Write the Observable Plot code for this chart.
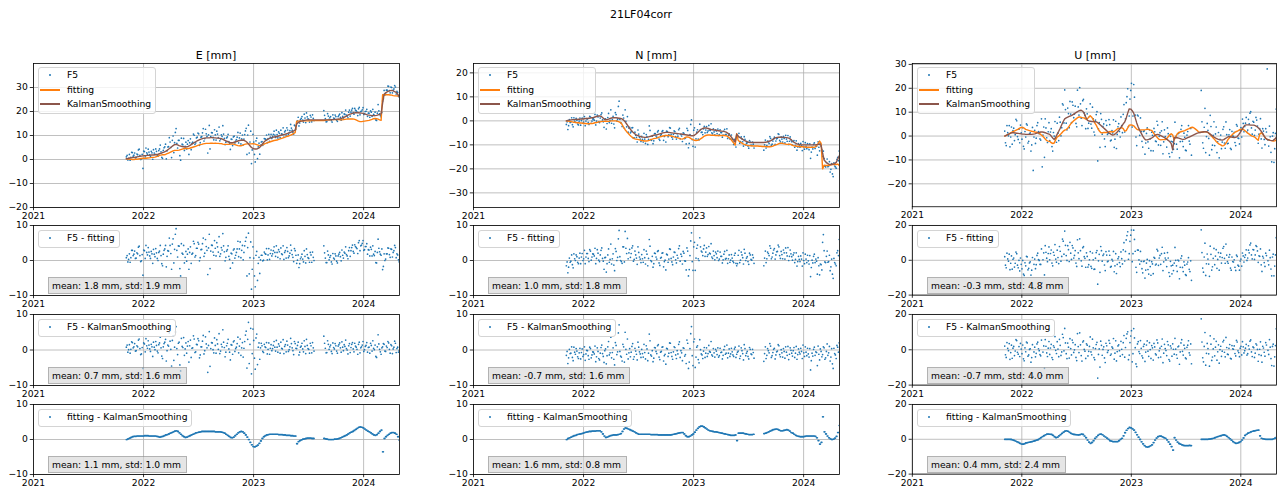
<!DOCTYPE html>
<html>
<head>
<meta charset="utf-8">
<script src="https://cdn.jsdelivr.net/npm/d3@7"></script>
<script src="https://cdn.jsdelivr.net/npm/@observablehq/plot@0.6"></script>
<style>
  body { margin: 0; background: #fff; font-family: "DejaVu Sans", "Liberation Sans", sans-serif; }
  #fig { position: relative; width: 1282px; height: 491px; overflow: hidden; background: #fff; }
  .pl { position: absolute; }
  .ttl { position: absolute; font-size: 11px; line-height: 13px; white-space: nowrap; transform: translateX(-50%); color: #000; }
  .legend { position: absolute; padding: 0 4px 1px 28px; background: rgba(255,255,255,0.8); border: 1px solid #d4d4d4; border-radius: 3px; font-size: 9.2px; line-height: 14.5px; white-space: nowrap; color: #000; }
  .lrow { position: relative; height: 14.5px; }
  .swd { position: absolute; left: -17.6px; top: 6.3px; width: 2px; height: 2px; border-radius: 50%; }
  .swl { position: absolute; left: -26.6px; top: 6px; width: 20px; height: 2px; }
  .stat { position: absolute; box-sizing: border-box; height: 17.5px; line-height: 15.5px; padding: 0 5px 0 3px; font-size: 9.2px; white-space: nowrap; background: rgba(211,211,211,0.6); border: 1px solid rgba(0,0,0,0.22); color: #000; }
</style>
</head>
<body>
<div id="fig"></div>
<script>
// ---------------- data ----------------
const suptitle = "21LF04corr";
const componentTitles = ["E [mm]", "N [mm]", "U [mm]"];
const seriesNames = ["F5", "fitting", "KalmanSmoothing"];
const residualNames = ["F5 - fitting", "F5 - KalmanSmoothing", "fitting - KalmanSmoothing"];
const yearTicks = [2021, 2022, 2023, 2024];
const xDomain = ["2021-01-01", "2024-04-29"];
const startDate = "2021-11-05";
const stepDays = 5;
const secondObsOffsetDays = 2.5;
const topTicksE = [-20, -10, 0, 10, 20, 30];
const topTicksN = [-30, -20, -10, 0, 10, 20];
const topTicksU = [-20, -10, 0, 10, 20, 30];
const topDomainE = [-20, 40];
const topDomainN = [-36.1, 23.9];
const topDomainU = [-29.6, 30.4];
const resTicksEN = [-10, 0, 10];
const resTicksU = [-20, 0, 20];
const statsE = ["mean: 1.8 mm, std: 1.9 mm", "mean: 0.7 mm, std: 1.6 mm", "mean: 1.1 mm, std: 1.0 mm"];
const statsN = ["mean: 1.0 mm, std: 1.8 mm", "mean: -0.7 mm, std: 1.6 mm", "mean: 1.6 mm, std: 0.8 mm"];
const statsU = ["mean: -0.3 mm, std: 4.8 mm", "mean: -0.7 mm, std: 4.0 mm", "mean: 0.4 mm, std: 2.4 mm"];

// Kalman smoothing curves (mm), every 5 days from startDate
const ksE = [
0.3,0.4,0.6,0.7,0.8,0.9,1.0,1.1,1.2,1.3,
1.4,1.5,1.6,1.6,1.7,1.7,1.8,1.9,1.9,2.0,
2.1,2.2,2.4,2.6,2.9,3.1,3.4,3.8,4.3,4.8,
5.3,5.8,6.2,6.3,6.1,5.8,5.6,5.4,5.3,5.2,
5.3,5.5,5.8,6.2,6.6,7.0,7.4,7.8,8.1,8.4,
8.6,8.8,8.9,9.0,9.0,9.0,9.1,9.1,9.0,9.0,
8.9,8.9,8.8,8.7,8.4,8.1,7.8,7.5,7.2,7.0,
7.0,7.1,7.3,7.5,7.7,7.9,8.0,8.1,8.0,7.7,
7.2,6.5,5.7,5.0,4.6,4.4,4.4,4.5,4.8,5.4,
6.3,7.1,7.7,8.1,8.5,8.8,9.0,9.2,9.4,9.5,
9.6,9.8,10.0,10.2,10.3,10.5,10.7,10.9,11.1,11.3,
11.6,11.9,12.2,14.8,15.4,15.8,16.0,16.1,16.3,16.4,
16.5,16.5,16.5,16.5,16.5,16.5,16.5,16.5,16.5,16.5,
16.5,16.5,16.5,16.5,16.5,16.5,16.6,16.6,16.7,16.7,
16.8,16.9,17.0,17.2,17.5,17.8,18.1,18.5,18.8,19.0,
19.2,19.4,19.5,19.5,19.5,19.4,19.3,19.2,19.0,18.8,
18.6,18.5,18.4,18.3,18.3,18.3,18.4,18.6,18.8,19.0,
23.5,27.2,27.8,28.2,28.5,28.7,28.8,28.6,28.3,28.0,
27.2,26.2];
// KalmanSmoothing minus fitting, as read from the bottom row
const ksMinusFitE = [
0.0,0.2,0.4,0.6,0.8,0.9,0.9,1.0,1.0,1.0,
1.0,1.0,1.1,1.1,1.1,1.0,1.0,1.0,1.0,1.0,
0.9,0.8,0.7,0.8,0.9,1.1,1.3,1.4,1.6,1.8,
2.0,2.2,2.4,2.5,2.3,1.9,1.5,1.1,0.8,0.6,
0.7,0.9,1.1,1.3,1.5,1.7,1.9,2.0,2.1,2.2,
2.3,2.3,2.3,2.3,2.3,2.3,2.3,2.3,2.3,2.2,
2.2,2.2,2.2,2.1,2.0,1.8,1.5,1.2,0.9,0.6,
0.5,0.7,1.1,1.5,1.9,2.2,2.3,2.2,1.8,1.3,
0.7,0.0,-0.8,-1.5,-2.0,-2.1,-1.9,-1.6,-1.1,-0.4,
0.3,0.8,1.1,1.3,1.4,1.5,1.5,1.5,1.5,1.5,
1.5,1.4,1.4,1.4,1.3,1.3,1.2,1.2,1.2,1.1,
1.1,1.0,1.0,-1.2,-0.6,-0.3,-0.1,0.1,0.2,0.3,
0.4,0.4,0.4,0.3,0.3,0.3,0.3,0.3,0.3,0.3,
0.3,0.3,0.2,0.1,0.0,0.0,0.0,0.0,0.1,0.1,
0.2,0.3,0.5,0.7,0.9,1.1,1.3,1.6,1.9,2.1,
2.3,2.6,2.9,3.2,3.5,3.6,3.5,3.3,3.0,2.7,
2.4,2.2,1.9,1.6,1.3,1.2,1.4,1.8,2.3,2.7,
-3.5,0.3,0.8,1.2,1.5,1.8,2.0,2.0,1.8,1.5,
0.8,-0.2];
// F5 minus KalmanSmoothing (null = no observation), first and second observation per 5-day step
const resE = [
0.8,-0.6,1.5,0.2,2.1,0.9,-0.3,1.2,2.8,0.4,
-1.1,-5.2,1.7,3.2,0.5,1.4,-0.4,0.9,2.2,0.1,
1.3,-0.8,2.0,0.6,-2.4,1.8,3.0,-0.2,1.1,2.5,
-4.5,4.0,0.8,6.6,-1.3,2.2,-5.9,1.0,3.5,0.3,
-0.9,2.4,1.2,-2.1,0.6,3.1,-0.5,1.5,2.6,-1.4,
0.9,4.1,-0.2,1.7,-6.3,5.2,0.4,2.0,-0.8,1.3,
2.9,0.2,-1.0,1.6,5.7,0.7,-0.6,1.9,0.3,-2.8,
1.4,2.3,-0.4,0.8,3.6,1.1,-1.5,2.1,0.5,4.2,
-5.1,7.8,1.6,-6.7,5.9,-2.3,3.4,-4.1,2.0,0.6,
1.2,-0.7,0.9,2.1,0.2,-1.2,1.5,0.4,2.4,-0.3,
0.8,1.7,-0.9,0.5,2.9,1.0,-0.5,1.4,0.1,3.3,
0.6,-1.3,1.8,0.4,2.2,-0.6,1.1,0.3,2.6,-1.0,
1.3,0.2,1.9,-0.8,0.6,null,null,null,null,null,
null,3.9,0.5,-0.7,1.6,0.9,-0.4,2.0,0.3,1.2,
-0.9,1.5,0.6,2.3,-0.2,1.0,0.4,-1.1,1.8,0.7,
2.1,-0.5,1.1,0.2,1.6,-0.8,0.9,2.4,0.1,1.3,
-0.6,0.8,1.9,-0.3,0.5,1.4,-2.1,4.3,0.2,-1.2,
0.9,1.6,-0.4,0.7,2.0,-0.9,1.2,0.3,2.5,-0.7,
0.8,-0.2];
const res2E = [
1.4,0.1,-0.9,2.3,0.6,1.8,-0.2,0.9,3.1,-1.3,
0.7,2.0,-0.5,1.2,2.6,0.3,1.6,-1.8,0.8,2.4,
-0.3,1.5,3.6,-1.7,0.9,2.2,-3.1,1.4,4.8,0.2,
2.7,-2.9,5.1,0.4,1.9,-4.2,3.3,0.7,-1.5,2.0,
1.1,-3.4,2.8,0.5,4.0,-0.7,1.6,3.2,-2.2,0.9,
2.5,-1.1,3.7,0.6,1.3,-4.6,2.1,0.1,3.4,-0.9,
1.7,4.6,-0.3,0.9,2.2,-1.9,1.2,3.0,-0.6,1.5,
-1.2,2.6,0.4,1.8,-0.8,3.1,0.6,-2.0,2.4,5.3,
3.0,-3.8,6.1,-1.0,2.7,-5.4,4.5,0.8,-2.6,1.9,
-0.4,1.6,0.7,-1.1,2.0,0.5,-0.2,1.3,0.8,2.7,
-0.6,1.1,2.2,0.3,-1.0,1.5,2.5,-0.4,0.9,1.8,
-0.2,2.4,0.5,1.3,-1.4,0.8,1.9,-0.5,1.0,3.0,
0.4,-0.9,1.2,2.1,-0.3,null,null,null,null,null,
null,1.9,-0.8,2.6,0.2,1.4,-1.0,0.7,1.8,-0.3,
1.1,2.0,-0.6,0.8,1.5,2.8,0.0,1.2,-0.7,1.6,
0.3,1.9,0.8,-1.2,2.2,0.6,1.4,-0.4,1.0,2.1,
0.7,-0.9,1.3,2.6,0.1,-1.8,0.9,1.7,-0.5,0.6,
1.8,-0.3,1.1,2.4,0.2,1.5,-1.0,0.8,1.9,0.4,
-0.6,0.5];

const ksN = [
0.0,0.2,0.3,0.4,0.5,0.5,0.6,0.6,0.7,0.7,
0.8,0.8,0.9,1.0,1.0,1.1,1.2,1.3,1.4,1.6,
1.8,2.0,2.1,1.9,1.4,0.8,0.5,0.5,0.7,1.0,
1.2,1.3,1.3,1.3,1.2,1.1,1.0,0.8,0.3,-0.4,
-1.3,-2.2,-3.1,-3.9,-4.6,-5.2,-5.7,-6.0,-6.3,-6.5,
-6.7,-6.8,-6.9,-6.9,-6.8,-6.6,-6.4,-6.2,-6.0,-5.9,
-5.8,-5.6,-5.4,-5.2,-5.0,-4.9,-4.8,-4.8,-4.8,-4.9,
-5.0,-5.1,-5.2,-5.2,-5.3,-5.4,-5.5,-5.6,-5.7,-5.8,
-5.9,-6.0,-6.1,-6.2,-6.2,-6.0,-5.5,-4.9,-4.3,-3.7,
-3.3,-3.0,-2.9,-3.0,-3.2,-3.4,-3.6,-3.7,-3.8,-3.9,
-4.0,-4.1,-4.2,-4.3,-4.4,-4.5,-4.7,-5.1,-5.7,-6.4,
-7.2,-8.0,-8.8,-5.6,-6.3,-6.9,-7.3,-7.7,-8.1,-8.4,
-8.7,-8.9,-9.0,-9.0,-9.0,-9.0,-9.0,-9.0,-9.0,-9.0,
-9.0,-9.0,-8.9,-8.8,-8.6,-8.4,-8.1,-7.7,-7.3,-7.0,
-6.9,-6.8,-6.8,-6.8,-6.9,-6.9,-7.0,-7.1,-7.3,-7.8,
-8.4,-8.9,-9.3,-9.6,-9.8,-9.9,-10.0,-10.0,-10.0,-10.0,
-10.0,-10.0,-10.0,-10.0,-10.0,-10.0,-9.9,-9.8,-9.7,-10.2,
-13.5,-16.3,-17.0,-17.6,-18.0,-18.2,-18.2,-18.0,-17.8,-17.3,
-16.0,-14.6];
const ksMinusFitN = [
0.0,0.3,0.5,0.7,0.9,1.1,1.2,1.4,1.5,1.6,
1.7,1.8,2.0,2.1,2.2,2.3,2.3,2.4,2.4,2.4,
2.5,2.5,2.5,2.2,1.6,1.0,0.6,0.7,0.9,1.1,
1.2,1.3,1.3,1.3,1.4,1.5,1.7,2.3,3.0,3.3,
3.2,3.0,2.8,2.6,2.4,2.2,1.9,1.7,1.5,1.5,
1.5,1.5,1.5,1.5,1.5,1.5,1.4,1.4,1.4,1.4,
1.4,1.3,1.3,1.3,1.3,1.3,1.3,1.3,1.3,1.3,
1.4,1.5,1.6,1.7,1.8,1.9,2.0,2.0,1.6,1.1,
0.8,0.8,1.0,1.3,1.6,2.1,2.7,3.2,3.6,3.8,
3.8,3.6,3.3,3.0,2.7,2.5,2.4,2.3,2.2,2.2,
2.1,2.0,1.9,1.8,1.7,1.6,1.5,1.4,1.3,1.2,
1.2,1.2,1.3,-0.3,1.8,1.8,1.8,1.8,1.7,1.6,
1.5,1.4,1.4,1.4,1.5,1.5,1.5,1.5,1.6,1.6,
1.7,1.7,1.8,2.0,2.2,2.4,2.6,2.8,2.9,3.0,
2.9,2.7,2.5,2.5,2.6,2.7,2.8,2.7,2.4,2.0,
1.8,1.5,1.2,1.0,0.9,0.8,0.8,0.8,0.9,1.0,
1.0,1.0,1.0,1.0,1.0,0.9,0.5,-0.3,-1.3,-0.8,
6.5,2.2,1.6,1.0,0.5,0.2,0.0,0.1,0.4,0.9,
2.0,4.0];
const resN = [
-1.5,-3.8,0.2,-0.9,-2.1,0.8,-1.2,-0.3,-2.4,0.5,
-0.7,-1.8,0.9,-1.1,-0.2,-2.6,0.4,-1.4,-0.6,1.1,
-1.9,-0.4,-2.8,0.7,-1.0,-3.5,0.3,-1.6,2.4,-0.8,
-2.2,0.6,-4.2,1.3,-0.5,7.1,-1.7,-3.1,0.9,5.0,
-1.2,-2.5,0.4,-0.6,1.8,-1.9,-0.3,-2.8,0.8,-1.1,
0.2,-2.0,-0.7,1.2,-3.0,4.5,-1.4,-0.2,-2.3,0.6,
-1.0,1.5,-2.7,-0.4,0.9,-1.6,-4.0,0.3,-0.9,1.9,
-1.8,-0.5,0.7,-2.4,-1.1,2.3,-0.2,-3.0,0.5,-1.3,
2.8,-5.2,0.4,6.6,-4.4,3.1,-2.0,1.2,-3.6,0.1,
-1.4,-0.3,-2.1,0.6,-1.0,-0.4,2.4,-1.7,-0.8,0.2,
-1.3,-2.0,0.5,-0.6,-1.5,1.0,-0.9,-2.2,0.3,-1.1,
-0.5,-1.8,0.8,-1.2,-0.3,-2.4,0.6,-1.0,1.5,-1.6,
-0.4,-2.5,0.2,-1.3,-0.7,null,null,null,null,null,
null,-3.2,0.9,-1.5,-0.2,1.8,-2.1,-0.7,0.5,-1.4,
-0.3,1.2,-1.9,-0.8,0.4,-2.3,-0.6,1.0,-1.2,-0.1,
-1.7,0.7,-0.9,-2.6,0.3,-1.1,-0.4,1.4,-1.8,-0.6,
0.5,-2.0,-5.6,-0.9,0.2,-1.5,-0.7,1.1,-2.8,-0.4,
-1.3,0.6,-2.2,1.7,-0.8,-3.1,0.4,-5.2,-1.0,-2.4,
0.8,2.0];
const res2N = [
-0.4,-2.2,-1.0,0.9,-3.0,-0.6,0.4,-1.9,-0.8,-2.5,
0.3,-1.3,-2.9,-0.1,-1.6,0.8,-2.2,-0.5,-1.1,-3.3,
0.6,-2.4,-0.9,1.4,-1.8,-0.2,-3.9,0.9,-1.4,3.6,
-0.7,-2.6,2.1,-1.3,4.8,-0.4,-2.0,1.6,-3.4,0.2,
3.1,-0.8,-1.9,1.0,-2.6,0.5,-1.2,2.2,-0.5,-2.1,
-1.0,1.6,-2.5,0.3,-0.9,2.6,-1.7,-3.3,0.7,-0.4,
1.2,-2.0,-0.6,0.8,-3.1,-1.2,0.5,-1.8,2.0,-0.7,
-2.6,0.9,-1.4,-0.2,1.6,-2.1,-0.8,0.6,-1.7,-3.8,
1.9,-3.4,4.6,-1.6,2.3,-4.9,0.8,-2.7,2.9,-1.1,
-2.4,0.7,-0.9,-1.8,1.3,-0.6,-1.4,0.4,-2.0,-0.3,
0.6,-1.6,-0.7,-2.5,0.1,-1.2,1.4,-0.9,-1.8,0.5,
-1.4,0.3,-2.1,-0.6,1.1,-1.7,-0.2,-2.8,0.4,-0.9,
-1.8,0.7,-1.1,0.2,-2.3,null,null,null,null,null,
null,-1.0,-2.4,0.4,-0.8,1.1,-1.6,0.2,-2.5,-0.5,
1.5,-1.3,0.1,-2.0,-0.4,0.9,-1.5,-2.7,0.6,-0.9,
-0.2,-2.1,1.0,-1.3,-0.6,0.5,-2.4,-0.8,0.9,-1.6,
-1.1,0.4,-3.0,-1.7,0.8,-0.5,-4.4,-1.2,0.3,-1.9,
0.9,-2.6,-0.4,-1.5,1.0,-2.0,-3.9,0.5,-1.4,1.3,
-0.6,3.5];

const ksU = [
0.0,0.3,0.6,0.9,1.2,1.4,1.4,1.3,1.2,1.1,
1.0,0.9,0.8,0.8,0.7,0.7,0.7,0.7,0.7,0.8,
0.9,1.1,1.3,1.5,1.7,1.7,1.6,1.4,1.1,0.9,
0.7,0.0,-0.8,-1.4,-0.5,0.8,2.0,3.3,4.7,6.1,
7.2,7.6,7.9,8.2,8.5,8.8,9.2,9.6,10.0,10.4,
10.7,10.8,10.4,9.5,8.0,6.7,6.3,6.2,6.1,6.1,
6.0,6.0,5.6,5.1,4.5,3.9,3.4,2.8,2.2,1.6,
1.1,0.7,0.4,0.6,1.1,1.7,2.4,3.2,4.1,5.1,
5.9,7.5,9.6,11.4,11.3,10.6,9.6,7.6,5.5,3.8,
2.4,1.2,0.0,-1.0,-1.6,-1.6,-1.4,-1.2,-0.8,-0.4,
0.2,0.6,0.7,0.5,0.2,-0.1,-0.5,-0.9,-1.3,-1.8,
-2.3,-3.2,-5.8,-0.7,-0.6,-0.7,-0.9,-1.1,-1.3,-1.4,
-1.3,-1.0,-0.7,-0.4,-0.1,0.2,0.5,0.8,1.1,1.3,
1.5,1.6,1.7,1.8,1.8,1.7,1.3,0.8,0.3,-0.2,
-0.6,-1.0,-1.3,-1.5,-1.6,-1.7,-1.5,-1.1,-0.7,-0.3,
-0.3,-0.4,-0.5,-0.6,-0.5,-0.2,0.6,1.5,2.5,3.6,
4.5,4.7,4.7,4.7,4.6,4.6,4.6,4.4,4.0,3.5,
2.8,2.0,1.1,0.0,-1.0,-1.4,-1.6,-1.8,-1.9,-1.8,
-1.3,-0.6];
const ksMinusFitU = [
0.0,0.0,0.0,0.0,-0.1,-0.3,-0.6,-1.0,-1.4,-1.8,
-2.3,-2.7,-2.8,-2.5,-2.1,-1.9,-1.7,-1.5,-1.3,-1.1,
-0.8,-0.5,-0.2,0.4,1.0,1.6,2.1,2.6,3.0,3.0,
2.9,2.8,2.3,1.5,1.0,1.2,2.0,2.7,3.4,4.1,
4.7,4.9,4.6,4.0,3.4,3.0,2.8,2.7,2.6,2.5,
2.7,3.0,2.8,1.9,0.9,-0.4,-1.6,-2.3,-1.8,-0.8,
0.5,1.4,2.3,2.9,3.0,2.6,1.9,1.3,0.7,0.0,
-0.8,-1.1,-1.3,-1.3,-1.3,-1.3,-0.8,0.0,0.6,2.0,
3.8,5.2,6.2,6.8,6.6,6.0,5.3,4.0,2.6,1.2,
-0.1,-1.4,-2.6,-3.6,-4.3,-4.5,-4.2,-3.7,-3.2,-1.9,
-0.4,0.7,1.5,1.9,1.8,1.4,1.0,0.6,-0.3,-1.5,
-2.8,-4.2,-6.2,0.9,-0.4,-1.6,-2.4,-2.8,-3.2,-3.5,
-3.6,-3.6,-3.6,-3.5,-3.6,-3.5,-3.0,-2.2,-1.4,-0.6,
0.0,0.0,0.0,0.0,0.0,0.0,0.1,0.2,0.4,0.6,
0.9,1.3,1.6,1.9,2.1,2.4,2.5,2.3,1.7,1.0,
0.3,-0.5,-1.3,-1.9,-2.3,-2.2,-1.8,-1.3,-0.4,0.8,
2.2,2.9,3.5,3.9,4.3,4.6,4.8,5.0,5.2,5.3,
2.0,0.6,0.3,0.1,0.0,0.0,0.0,0.0,0.0,0.3,
0.7,1.1];
const resU = [
2.1,-4.3,0.8,3.5,-1.6,-4.8,1.9,-0.7,5.2,-2.5,
-3.8,0.4,2.7,-6.2,-1.1,3.9,-2.9,0.6,-4.4,-15.2,
1.5,-2.0,4.3,-0.5,-3.4,-14.6,2.2,5.8,-1.8,0.9,
-2.6,3.1,-5.5,1.4,-0.3,4.6,-3.9,2.5,-1.2,6.9,
12.1,-2.2,3.8,-4.7,0.7,5.5,-1.5,2.9,-6.1,1.8,
9.6,-3.3,4.4,0.2,-4.9,2.6,-0.9,7.3,-2.8,1.1,
-5.6,3.0,-16.0,0.5,4.9,-3.1,1.7,-7.2,2.3,-0.4,
3.7,-2.4,0.9,-5.3,5.1,-1.0,2.8,-3.6,0.3,4.0,
-4.2,6.5,10.2,-3.0,7.8,-6.8,12.0,1.2,-9.5,4.6,
-2.1,0.8,-4.6,3.2,-1.3,5.0,-3.7,0.1,2.4,-5.8,
1.6,-2.9,3.9,-0.6,-4.1,6.1,-1.9,0.7,-3.3,2.8,
-6.4,1.0,3.4,-2.5,0.4,-4.8,2.1,-1.2,5.7,-3.0,
0.8,-5.1,2.6,-1.7,3.3,null,null,null,null,null,
null,17.5,-4.5,1.9,-8.7,3.6,-2.3,7.9,-6.0,0.5,
-3.4,4.8,-1.1,-7.6,2.0,-0.8,5.4,-4.0,1.3,-2.7,
3.0,-5.2,0.6,2.2,-3.5,4.4,-1.6,0.9,-2.9,1.7,
-0.5,3.1,-2.2,0.4,5.6,-3.8,1.2,-1.9,2.7,-6.5,
0.3,-3.2,2.0,-1.4,4.1,29.5,-2.6,1.5,-8.9,3.2,
-4.0,11.9];
const res2U = [
-2.8,4.1,-0.5,-5.4,2.6,0.9,-3.3,5.7,-1.4,1.8,
3.6,-2.2,-5.1,1.1,4.4,-3.6,0.2,-7.0,2.9,-1.2,
-4.0,3.3,0.6,-2.7,5.5,-1.3,-10.5,2.0,-3.8,4.7,
1.0,-4.4,2.3,7.5,-2.1,0.4,5.9,-3.2,8.8,-0.6,
3.9,-5.0,1.5,6.3,-2.9,4.1,0.0,-4.3,9.2,-1.6,
2.8,-6.4,5.0,-0.8,3.4,-3.5,1.9,-1.2,6.0,-4.4,
0.7,4.2,-2.6,-9.8,2.5,0.2,-4.6,3.7,-1.5,5.3,
-3.1,1.6,6.4,-1.9,-6.3,2.2,-0.5,4.8,-2.7,8.1,
1.3,9.0,-5.6,4.1,10.8,-2.2,6.7,-8.0,3.3,-1.0,
5.2,-3.4,1.9,-6.6,2.7,-0.8,4.0,-4.9,1.1,3.6,
-2.3,5.6,-4.4,0.9,2.0,-7.3,3.1,-0.4,4.7,-5.5,
2.2,-3.6,0.3,6.5,-2.8,1.7,-8.2,3.9,-0.9,2.6,
-4.6,1.4,5.1,-3.0,-7.9,null,null,null,null,null,
null,4.4,-6.8,9.8,-2.0,0.7,-9.3,3.2,-4.1,6.2,
1.5,-5.9,2.8,0.1,-3.7,4.5,-1.4,7.0,-2.5,0.8,
-4.8,2.4,0.3,-2.1,5.3,-0.6,-3.9,2.0,4.6,-1.8,
0.9,-3.0,2.3,4.9,-1.2,1.6,-4.3,3.4,0.2,-2.7,
4.5,-7.0,1.0,-3.6,2.7,-0.3,5.8,-5.0,1.9,-9.2,
2.4,4.9];

// ---------------- build ----------------
const blue = "#1f77b4", orange = "#ff7f0e", brown = "#8c564b";
const fontFamily = "DejaVu Sans, Liberation Sans, sans-serif";
const colLeft = [33, 473, 912];
const frameW = 366;
const rowTop = [63, 225, 314, 404];
const rowH = [144, 70, 71, 70];
const ML = 40, MR = 6, MT = 8, MB = 20;

const DAY = 86400000;
const t0 = new Date(startDate + "T00:00:00Z").getTime();
const dates = ksE.map((_, i) => new Date(t0 + i * stepDays * DAY));
const xTicks = yearTicks.map(y => new Date(Date.UTC(y, 0, 1)));
const fmtY = d => d < 0 ? "\u2212" + (-d) : String(d);

function buildRows(ks, ksMinusFit) {
  return ks.map((k, i) => ({date: dates[i], ks: k, fit: k - ksMinusFit[i]}));
}
function buildObs(ks, ksMinusFit, res, offsetDays) {
  const out = [];
  res.forEach((v, i) => {
    if (v === null || v === undefined) return;
    out.push({
      date: new Date(dates[i].getTime() + offsetDays * DAY),
      f5: ks[i] + v,
      rFit: v + ksMinusFit[i],
      rKs: v,
      fitKs: ksMinusFit[i]
    });
  });
  return out;
}

const comps = [
  {ks: ksE, kf: ksMinusFitE, res: [resE, res2E], topDomain: topDomainE, topTicks: topTicksE, resTicks: resTicksEN, stats: statsE},
  {ks: ksN, kf: ksMinusFitN, res: [resN, res2N], topDomain: topDomainN, topTicks: topTicksN, resTicks: resTicksEN, stats: statsN},
  {ks: ksU, kf: ksMinusFitU, res: [resU, res2U], topDomain: topDomainU, topTicks: topTicksU, resTicks: resTicksU, stats: statsU}
];

const fig = document.getElementById("fig");

function addDiv(cls, text, left, top) {
  const d = document.createElement("div");
  d.className = cls;
  if (text !== null) d.textContent = text;
  d.style.left = left + "px";
  d.style.top = top + "px";
  fig.appendChild(d);
  return d;
}

function panel(c, r, marks, yDomain, yTicks) {
  const svg = Plot.plot({
    width: ML + frameW + MR,
    height: MT + rowH[r] + MB,
    marginLeft: ML, marginRight: MR, marginTop: MT, marginBottom: MB,
    style: {fontFamily, fontSize: "9.2px", color: "#000", background: "transparent", overflow: "visible"},
    x: {type: "utc", domain: [new Date(xDomain[0] + "T00:00:00Z"), new Date(xDomain[1] + "T00:00:00Z")]},
    y: {domain: yDomain},
    marks: [
      Plot.gridX(xTicks, {stroke: "#b0b0b0", strokeOpacity: 1, strokeWidth: 0.8}),
      Plot.gridY(yTicks, {stroke: "#b0b0b0", strokeOpacity: 1, strokeWidth: 0.8}),
      ...marks,
      Plot.frame({stroke: "#000", strokeWidth: 0.8}),
      Plot.axisX(xTicks, {tickFormat: d => String(d.getUTCFullYear()), tickSize: 3.2, tickPadding: 2, label: null, strokeWidth: 0.8}),
      Plot.axisY(yTicks, {tickFormat: fmtY, tickSize: 3.2, tickPadding: 2.5, label: null, strokeWidth: 0.8})
    ]
  });
  const wrap = document.createElement("div");
  wrap.className = "pl";
  wrap.style.left = (colLeft[c] - ML) + "px";
  wrap.style.top = (rowTop[r] - MT) + "px";
  wrap.appendChild(svg);
  fig.appendChild(wrap);
}

function legend(c, r, items) {
  const box = addDiv("legend", null, colLeft[c] + 5, rowTop[r] + (r === 0 ? 4 : 5));
  items.forEach(it => {
    const row = document.createElement("div");
    row.className = "lrow";
    const sw = document.createElement("span");
    sw.className = it.type === "dot" ? "swd" : "swl";
    sw.style.background = it.color;
    const tx = document.createElement("span");
    tx.textContent = it.label;
    row.appendChild(sw);
    row.appendChild(tx);
    box.appendChild(row);
  });
}

addDiv("ttl", suptitle, 641, 7.5);

comps.forEach((cp, c) => {
  const rows = buildRows(cp.ks, cp.kf);
  const obs = buildObs(cp.ks, cp.kf, cp.res[0], 0).concat(buildObs(cp.ks, cp.kf, cp.res[1], secondObsOffsetDays));
  addDiv("ttl", componentTitles[c], colLeft[c] + frameW / 2, 48.5);

  panel(c, 0, [
    Plot.dot(obs, {x: "date", y: "f5", r: 0.85, fill: blue, clip: true}),
    Plot.line(rows, {x: "date", y: "fit", stroke: orange, strokeWidth: 1.4, clip: true}),
    Plot.line(rows, {x: "date", y: "ks", stroke: brown, strokeWidth: 1.4, clip: true})
  ], cp.topDomain, cp.topTicks);
  legend(c, 0, [
    {type: "dot", color: blue, label: seriesNames[0]},
    {type: "line", color: orange, label: seriesNames[1]},
    {type: "line", color: brown, label: seriesNames[2]}
  ]);

  const rd = cp.resTicks[2];
  ["rFit", "rKs", "fitKs"].forEach((k, j) => {
    const r = j + 1;
    panel(c, r, [
      Plot.dot(obs, {x: "date", y: k, r: 0.85, fill: blue, clip: true})
    ], [-rd, rd], cp.resTicks);
    legend(c, r, [{type: "dot", color: blue, label: residualNames[j]}]);
    addDiv("stat", cp.stats[j], colLeft[c] + 15, rowTop[r] + rowH[r] - 18.5);
  });
});
</script>
</body>
</html>
